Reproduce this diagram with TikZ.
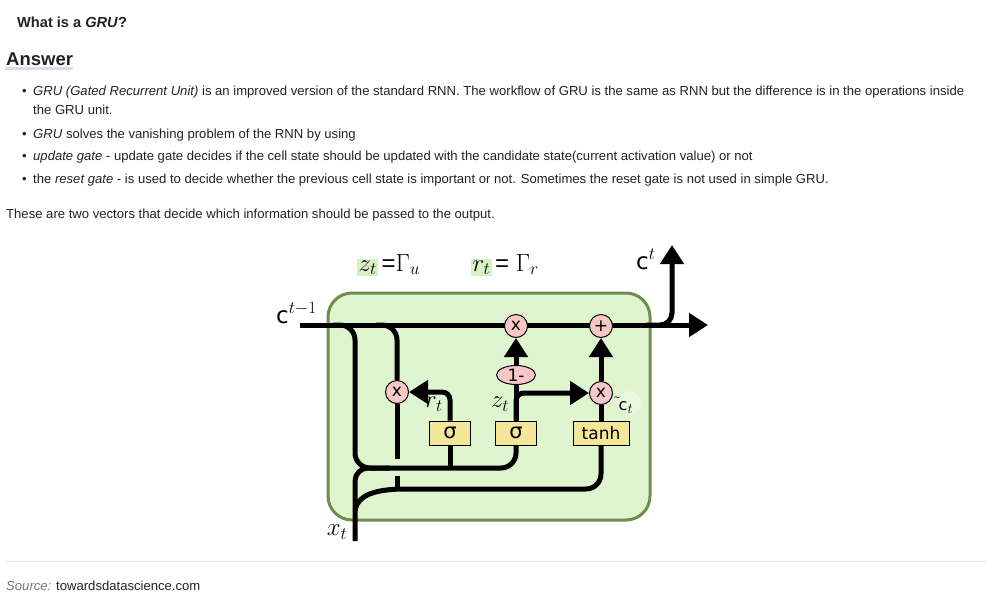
\documentclass[tikz,border=0pt]{standalone}
\usepackage{fontspec}
\setmainfont{Liberation Sans}
\newfontfamily\dejavu{DejaVu Sans}
\usetikzlibrary{arrows.meta,calc,shapes.geometric}
\pgfdeclarelayer{bg}
\pgfdeclarelayer{wires}
\pgfsetlayers{bg,wires,main}

\definecolor{cellfill}{HTML}{DFF5D0}
\definecolor{celledge}{HTML}{6B8E4E}
\definecolor{gatefill}{HTML}{F5E79A}
\definecolor{opfill}{HTML}{F8C8C8}
\definecolor{hilite}{HTML}{D6F2C4}
\definecolor{bodytext}{HTML}{222222}
\definecolor{rulegray}{HTML}{E6E6E6}
\definecolor{ulcolor}{HTML}{E4D6EA}
\definecolor{srcgray}{HTML}{777777}

\begin{document}
\begin{tikzpicture}[x=1pt,y=-1pt,
  wire/.style={line width=5pt},
  tip/.style={-{Triangle[length=19pt,width=23pt]}},
  op/.style={circle,draw,line width=1pt,fill=opfill,minimum size=23pt,inner sep=0pt,
             font=\dejavu\fontsize{17}{17}\selectfont},
  gate/.style={draw,line width=1pt,fill=gatefill,minimum height=24pt,inner sep=0pt,
               font=\dejavu\fontsize{17}{17}\selectfont},
  body/.style={anchor=base west,inner sep=0pt,text=bodytext,
               font=\fontsize{13.1}{15}\selectfont},
  mlabel/.style={inner sep=0pt,font=\fontsize{23}{23}\selectfont},
  toplabel/.style={inner sep=0pt,font=\fontsize{24}{24}\selectfont},
]
\useasboundingbox (0,0) rectangle (1000,600);

% ---------- page text ----------
\node[body,font=\bfseries\fontsize{14.6}{16}\selectfont] (q) at (17,27) {What is a \textit{GRU}?};
\node[body,font=\bfseries\fontsize{18.5}{20}\selectfont] (ans) at (6,65) {Answer};
\begin{pgfonlayer}{bg}
  \draw[ulcolor,line width=3pt] ($(ans.base west)+(-1,3)$) -- ($(ans.base east)+(0,3)$);
\end{pgfonlayer}

\foreach \n/\yy in {b1/95,b2/138,b3/160,b4/183}
  \node[body] (\n) at (22,\yy) {•};
\node[body] (l1) at (33,95) {\textit{GRU (Gated Recurrent Unit)} is an improved version of the standard RNN. The workflow of GRU is the same as RNN but the difference is in the operations inside};
\node[body] (l1b) at (33,114) {the GRU unit.};
\node[body] (l2) at (33,138) {\textit{GRU} solves the vanishing problem of the RNN by using};
\node[body] (l3) at (33,160) {\textit{update gate} - update gate decides if the cell state should be updated with the candidate state(current activation value) or not};
\node[body] (l4) at (33,183) {the \textit{reset gate} - is used to decide whether the previous cell state is important or not. Sometimes the reset gate is not used in simple GRU.};
\node[body] (l5) at (6,218) {These are two vectors that decide which information should be passed to the output.};

\coordinate (ruleL) at (5,561);
\coordinate (ruleR) at (987,561);
\draw[rulegray,line width=1pt] (ruleL) -- (ruleR);
\node[body] (src) at (6,590) {\textcolor{srcgray}{\textit{Source:}} towardsdatascience.com};

% ---------- GRU cell ----------
\begin{pgfonlayer}{bg}
  \draw[celledge,fill=cellfill,line width=3pt,rounded corners=24pt] (328,293) rectangle (650,520);
  \fill[white,opacity=0.35] (629,403) circle (12pt);
\end{pgfonlayer}

% operators and gates
\node[op] (m1) at (516,326) {x};
\node[op] (plus) at (601,326) {+};
\node[op] (xr) at (397,392) {x};
\node[op] (xc) at (601,393) {x};
\node[op,ellipse,minimum width=39pt,minimum height=19pt] (one) at (516,375) {1-};
\node[gate,minimum width=41pt,font=\dejavu\fontsize{21}{21}\selectfont] (rs) at (450,433) {σ};
\node[gate,minimum width=41pt,font=\dejavu\fontsize{21}{21}\selectfont] (zs) at (516,433) {σ};
\node[gate,minimum width=56pt] (tanh) at (601,433) {tanh};

% labels
\node[mlabel,anchor=base west] (cprev) at (276,323) {{\dejavu c}$^{t-1}$};
\node[mlabel,anchor=base west] (cnext) at (636,269) {{\dejavu c}$^{t}$};
\node[mlabel] (rlab) at (434,404) {$r_t$};
\node[mlabel] (zlab) at (500,404) {$z_t$};
\node[mlabel,anchor=base west,font=\fontsize{20}{20}\selectfont] (clab) at (617,410)
  {$\tilde{}$\kern1.5pt{\dejavu\fontsize{16}{16}\selectfont c}$_t$};
\node[mlabel] (xlab) at (337,532) {$x_t$};
\node[toplabel,fill=hilite,inner sep=1.5pt,anchor=base west] (zt) at (357,271) {$z_t$};
\node[toplabel,anchor=base west] (gu) at ($(zt.base east)+(3,0)$) {=$\Gamma_u$};
\node[toplabel,fill=hilite,inner sep=1.5pt,anchor=base west] (rt) at (471,271) {$r_t$};
\node[toplabel,anchor=base west] (gr) at ($(rt.base east)+(3,0)$) {= $\Gamma_r$};

% wires
\coordinate (cin) at (300,325);
\coordinate (cout) at (708,325);
\coordinate (brk) at (646,325);
\coordinate (hout) at (672,245);
\coordinate (tapA) at (333,325);
\coordinate (tapB) at (376,325);
\coordinate (joinA) at (355,468);
\coordinate (joinB) at (390,468);
\coordinate (xin) at (355,541);
\coordinate (xsplit) at (355,510);
\coordinate (hjoin) at (400,489);
\coordinate (gapTop) at (397,459);
\coordinate (gapBot) at (397,476);
\coordinate (rhEnd) at (397,489);

\begin{pgfonlayer}{wires}
  % carry line and output
  \draw[wire,tip] (cin) -- (cout);
  \draw[wire,tip,rounded corners=12pt] (brk) -| (hout);
  % feeds from the carry line
  \draw[wire,rounded corners=15pt] (tapA) -| (joinA) -| (zs.south);
  \draw[wire,rounded corners=15pt] (tapB) -| (xr.north);
  \draw[wire] (rs.south) -- (rs.south |- joinA);
  % reset gate
  \draw[wire,tip,rounded corners=8pt] (rs.north) |- (xr.east);
  \draw[wire] (xr.south) -- (gapTop);
  \draw[wire] (gapBot) -- (rhEnd);
  % input
  \draw[wire,rounded corners=13pt] (xin) |- (joinB);
  \draw[wire] (xsplit) .. controls (358,496) and (372,490) .. (hjoin);
  \draw[wire,rounded corners=15pt] (hjoin) -| (tanh.south);
  % update gate
  \draw[wire] (zs.north) -- (one.south);
  \draw[wire,tip] (one.north) -- (m1.south);
  \draw[wire,tip,rounded corners=8pt] (zs.north) |- (xc.west);
  % candidate
  \draw[wire] (tanh.north) -- (xc.south);
  \draw[wire,tip] (xc.north) -- (plus.south);
\end{pgfonlayer}
\end{tikzpicture}
\end{document}
